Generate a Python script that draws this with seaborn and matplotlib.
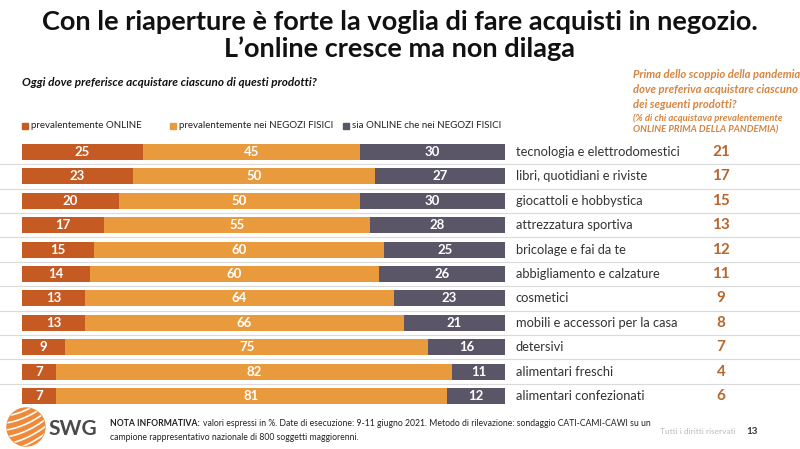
import matplotlib
matplotlib.use("Agg")
import matplotlib.pyplot as plt
import matplotlib.transforms as mtrans
from matplotlib.patches import Circle, Rectangle
import numpy as np
import pandas as pd
import seaborn as sns

# ---------------- data ----------------
categories = [
    "tecnologia e elettrodomestici",
    "libri, quotidiani e riviste",
    "giocattoli e hobbystica",
    "attrezzatura sportiva",
    "bricolage e fai da te",
    "abbigliamento e calzature",
    "cosmetici",
    "mobili e accessori per la casa",
    "detersivi",
    "alimentari freschi",
    "alimentari confezionati",
]
online = [25, 23, 20, 17, 15, 14, 13, 13, 9, 7, 7]
negozi = [45, 50, 50, 55, 60, 60, 64, 66, 75, 82, 81]
entrambi = [30, 27, 30, 28, 25, 26, 23, 21, 16, 11, 12]
pre_pandemia = [21, 17, 15, 13, 12, 11, 9, 8, 7, 4, 6]
series_names = ["prevalentemente ONLINE", "prevalentemente nei NEGOZI FISICI",
                "sia ONLINE che nei NEGOZI FISICI"]

C_ONLINE = "#C55A22"
C_NEG = "#E99A3C"
C_SIA = "#5B5667"
C_RIGHT = "#B8652E"
C_Q = "#D5853F"

sns.set_theme(style="white")
plt.rcParams["font.family"] = ["Lato", "DejaVu Sans"]

W, H = 800, 449
fig = plt.figure(figsize=(8, 4.49), dpi=100)
fig.patch.set_facecolor("white")

def fx(px):
    return px / W

def fy(py):
    return 1 - py / H

df = pd.DataFrame({
    "cat": categories,
    "online": online,
    "negozi": negozi,
    "sia": entrambi,
})
df["c1"] = df["online"]
df["c2"] = df["online"] + df["negozi"]
df["c3"] = df["c2"] + df["sia"]

ax = fig.add_axes([fx(22), fy(408.2), fx(505) - fx(22), (408.2 - 139.8) / H])
bh = 0.66
sns.barplot(data=df, y="cat", x="c3", color=C_SIA, orient="h", width=bh,
            linewidth=0, saturation=1, ax=ax)
sns.barplot(data=df, y="cat", x="c2", color=C_NEG, orient="h", width=bh,
            linewidth=0, saturation=1, ax=ax)
sns.barplot(data=df, y="cat", x="c1", color=C_ONLINE, orient="h", width=bh,
            linewidth=0, saturation=1, ax=ax)
ax.set_xlim(0, 100)
ax.set_ylim(len(categories) - 0.5, -0.5)
ax.axis("off")

for i, r in df.iterrows():
    for left, val in [(0, r["online"]), (r["c1"], r["negozi"]), (r["c2"], r["sia"])]:
        ax.text(left + val / 2, i, f"{val}", ha="center", va="center",
                color="white", fontsize=9.5, fontweight="bold")

tr = mtrans.blended_transform_factory(fig.transFigure, ax.transData)
for i in range(len(categories) - 1):
    ax.plot([0, 1], [i + 0.5, i + 0.5], transform=tr, color="#DADADA",
            lw=0.8, clip_on=False, zorder=0)
for i, (c, p) in enumerate(zip(categories, pre_pandemia)):
    ax.text(fx(516), i, c, transform=tr, ha="left", va="center",
            fontsize=9.3, color="#333333")
    ax.text(fx(721), i, str(p), transform=tr, ha="center", va="center",
            fontsize=11, fontweight="bold", color=C_RIGHT)

# ---------------- titles ----------------
fig.text(0.5, fy(22), "Con le riaperture è forte la voglia di fare acquisti in negozio.",
         ha="center", va="center", fontsize=19.5, fontweight="bold", color="#111111")
fig.text(0.5, fy(49), "L\u2019online cresce ma non dilaga",
         ha="center", va="center", fontsize=19.5, fontweight="bold", color="#111111")
fig.text(fx(22), fy(83), "Oggi dove preferisce acquistare ciascuno di questi prodotti?",
         ha="left", va="center", fontsize=8.5, fontweight="bold", style="italic",
         color="#111111")

q_lines = ["Prima dello scoppio della pandemia", "dove preferiva acquistare ciascuno",
           "dei seguenti prodotti?"]
for k, t in enumerate(q_lines):
    fig.text(fx(633), fy(75 + 14.5 * k), t, ha="left", va="center", fontsize=8.1,
             fontweight="bold", style="italic", color=C_Q)
fig.text(fx(633), fy(118), "(% di chi acquistava prevalentemente", ha="left",
         va="center", fontsize=6.8, fontweight="bold", style="italic", color=C_Q)
fig.text(fx(633), fy(130), "ONLINE PRIMA DELLA PANDEMIA)", ha="left",
         va="center", fontsize=6.8, fontweight="bold", style="italic", color=C_Q)

# ---------------- legend ----------------
leg_x = [22, 170, 343]
for xpos, name, col in zip(leg_x, series_names, [C_ONLINE, C_NEG, C_SIA]):
    fig.patches.append(Rectangle((fx(xpos), fy(129)), fx(6), 6 / H, color=col,
                                 transform=fig.transFigure, figure=fig))
    fig.text(fx(xpos + 9), fy(126), name, ha="left", va="center", fontsize=7.0,
             color="#222222")

# ---------------- footer ----------------
lax = fig.add_axes([fx(6), fy(447), fx(40), 40 / H])
lax.set_xlim(-1, 1)
lax.set_ylim(-1, 1)
lax.set_aspect("equal")
lax.axis("off")
circ = Circle((0, 0), 0.95, color="#EE8A3A")
lax.add_patch(circ)
for off in [-0.9, -0.55, -0.2, 0.15, 0.5, 0.85]:
    xs = np.linspace(-1, 1, 50)
    ln, = lax.plot(xs, 0.45 * xs + off + 0.15 * xs ** 2, color="white", lw=1.2)
    ln.set_clip_path(circ)
fig.text(fx(48), fy(429), "SWG", ha="left", va="center", fontsize=15,
         fontweight="bold", color="#4A4A4A")

t_bold = fig.text(fx(110), fy(424), "NOTA INFORMATIVA:", ha="left", va="center",
                  fontsize=6.2, fontweight="bold", color="#222222")
fig.canvas.draw()
bb = t_bold.get_window_extent(renderer=fig.canvas.get_renderer())
fig.text(bb.x1 / W + fx(3), fy(424),
         "valori espressi in %. Date di esecuzione: 9-11 giugno 2021. "
         "Metodo di rilevazione: sondaggio CATI-CAMI-CAWI su un",
         ha="left", va="center", fontsize=6.2, color="#222222")
fig.text(fx(110), fy(437), "campione rappresentativo nazionale di 800 soggetti maggiorenni.",
         ha="left", va="center", fontsize=6.2, color="#222222")
fig.text(fx(660), fy(432), "Tutti i diritti riservati", ha="left", va="center",
         fontsize=6, color="#BBBBBB")
fig.text(fx(752), fy(432), "13", ha="center", va="center", fontsize=7,
         fontweight="bold", color="#333333")

fig.savefig("out.png", dpi=100, facecolor="white")
